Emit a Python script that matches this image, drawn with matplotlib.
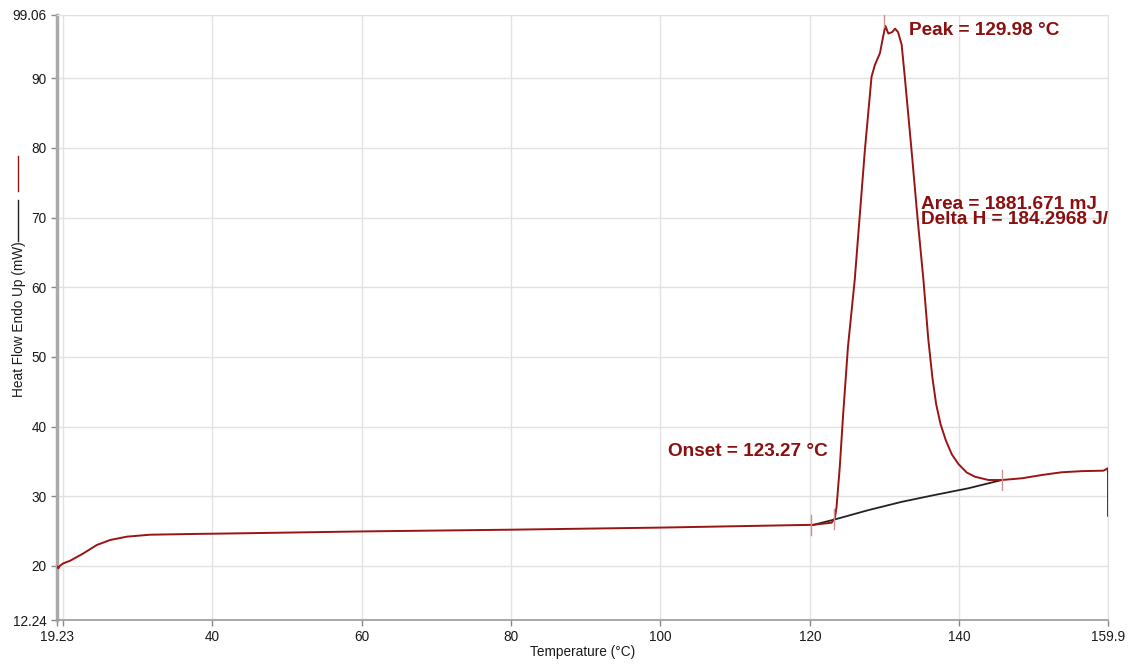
import matplotlib.pyplot as plt
from matplotlib.lines import Line2D

plt.rcParams['font.family'] = ['Liberation Sans', 'DejaVu Sans']

# DSC sample curve
temp = [19.23, 19.4, 19.6, 20.07, 21.0, 22.76, 24.55, 26.34, 28.58, 31.7, 37.07,
        43.8, 60.0, 80.0, 100.0, 118.87, 120.4, 122.9, 123.34, 123.57, 124.0,
        124.46, 125.1, 126.0, 127.36, 128.25, 128.7, 129.37, 129.8, 130.1, 130.5,
        131.0, 131.4, 131.8, 132.28, 132.7, 133.6, 134.4, 135.2, 135.85, 136.4,
        136.9, 137.5, 138.2, 139.0, 139.9, 141.0, 142.1, 143.9, 145.7, 148.4,
        151.05, 153.7, 156.4, 159.3, 159.85, 159.9, 159.9]
heat_flow = [19.9, 19.66, 20.0, 20.37, 20.75, 21.8, 23.0, 23.72, 24.2, 24.48, 24.58,
             24.68, 24.95, 25.2, 25.5, 25.87, 25.9, 26.2, 26.83, 28.5, 34.2,
             41.9, 51.5, 61.03, 79.69, 90.2, 91.9, 93.57, 95.95, 97.5, 96.4,
             96.6, 97.1, 96.6, 94.8, 90.2, 79.7, 70.0, 61.0, 52.5, 47.0,
             43.2, 40.3, 38.0, 36.0, 34.6, 33.4, 32.8, 32.33, 32.33, 32.58,
             33.05, 33.44, 33.6, 33.67, 34.0, 33.3, 27.2]

# integration baseline
base_temp = [120.4, 123.3, 127.8, 132.3, 136.7, 141.2, 145.7]
base_hf = [25.87, 26.66, 28.0, 29.2, 30.18, 31.14, 32.33]

# limit markers (temperature, heat flow)
marker_temp = [120.2, 123.27, 145.7]
marker_hf = [25.87, 26.7, 32.33]
peak_temp = 129.98

x_ticks = [19.23, 20, 40, 60, 80, 100, 120, 140, 159.9]
x_labels = ['19.23', '', '40', '60', '80', '100', '120', '140', '159.9']
y_ticks = [12.24, 20, 30, 40, 50, 60, 70, 80, 90, 99.06]
y_labels = ['12.24', '20', '30', '40', '50', '60', '70', '80', '90', '99.06']

red = '#9b1414'
txt_red = '#8b0f0f'

fig = plt.figure(figsize=(11.32, 6.66), dpi=100)
ax = fig.add_axes([57 / 1132, 46 / 666, 1051 / 1132, 605 / 666])

ax.set_xlim(19.23, 159.9)
ax.set_ylim(12.24, 99.06)
ax.set_xticks(x_ticks)
ax.set_xticklabels(x_labels)
ax.set_yticks(y_ticks)
ax.set_yticklabels(y_labels)
ax.grid(True, color='#e2e2e2', lw=1)
ax.set_axisbelow(True)
ax.tick_params(colors='#888888', labelcolor='#1a1a1a', labelsize=9.8, length=4, width=1)
ax.tick_params(axis='x', pad=3)

for s in ['top', 'right']:
    ax.spines[s].set_color('#e2e2e2')
ax.spines['left'].set_color('#aaaaaa')
ax.spines['left'].set_linewidth(2.5)
ax.spines['bottom'].set_color('#999999')
ax.spines['bottom'].set_linewidth(1.2)

ax.plot(base_temp, base_hf, color='#222222', lw=1.3, zorder=3)
ax.plot(temp, heat_flow, color=red, lw=1.4, zorder=4)

for t, h in zip(marker_temp, marker_hf):
    ax.plot([t, t], [h - 1.4, h + 1.4], color='#d09090', lw=1, zorder=5)
ax.plot([peak_temp, peak_temp], [97.3, 99.06], color='#d09090', lw=1, zorder=5)

ax.text(133.3, 96.9, 'Peak = 129.98 °C', color=txt_red, fontsize=13.7,
        fontweight='bold', va='center', ha='left')
ax.text(101.0, 36.35, 'Onset = 123.27 °C', color=txt_red, fontsize=13.7,
        fontweight='bold', va='center', ha='left')
ax.text(134.9, 71.9, 'Area = 1881.671 mJ', color=txt_red, fontsize=13.7,
        fontweight='bold', va='center', ha='left', clip_on=True)
ax.text(134.9, 69.7, 'Delta H = 184.2968 J/g', color=txt_red, fontsize=13.7,
        fontweight='bold', va='center', ha='left', clip_on=True)

ax.set_xlabel('Temperature (°C)', fontsize=9.8, color='#1a1a1a', labelpad=1)
fig.text(19.5 / 1132, 1 - 319 / 666, 'Heat Flow Endo Up (mW)', rotation=90,
         fontsize=9.8, color='#1a1a1a', ha='center', va='center')

# small series keys drawn beside the y label
fig.add_artist(Line2D([18 / 1132, 18 / 1132], [1 - 156 / 666, 1 - 191 / 666],
                      color=red, lw=1))
fig.add_artist(Line2D([18 / 1132, 18 / 1132], [1 - 200 / 666, 1 - 241 / 666],
                      color='#222222', lw=1))

plt.savefig('out.png', dpi=100, facecolor='white')
plt.close()
